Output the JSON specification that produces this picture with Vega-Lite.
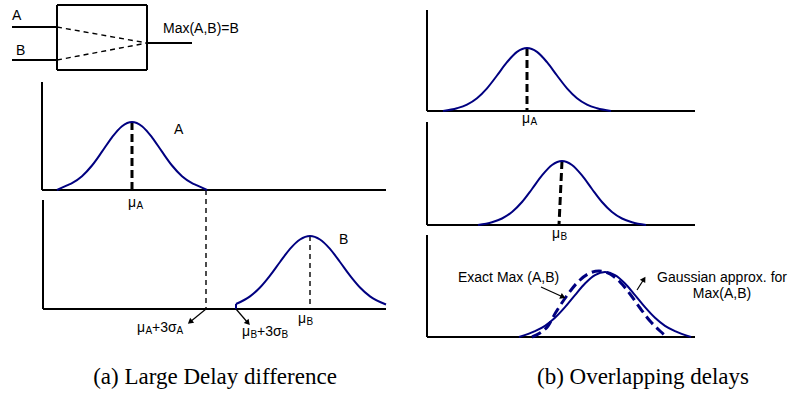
{
  "$schema": "https://vega.github.io/schema/vega-lite/v6.json",
  "width": 799,
  "height": 407,
  "autosize": {"type": "fit", "contains": "padding"},
  "padding": 0,
  "background": "white",
  "config": {"view": {"stroke": null}},
  "datasets": {
    "lines": [
      {"x": 42, "y": 82, "x2": 42, "y2": 190},
      {"x": 42, "y": 190, "x2": 386, "y2": 190},
      {"x": 43, "y": 200, "x2": 43, "y2": 309},
      {"x": 43, "y": 309, "x2": 386, "y2": 309},
      {"x": 427, "y": 10, "x2": 427, "y2": 111},
      {"x": 427, "y": 111, "x2": 695, "y2": 111},
      {"x": 427, "y": 122, "x2": 427, "y2": 225},
      {"x": 427, "y": 225, "x2": 695, "y2": 225},
      {"x": 427, "y": 235, "x2": 427, "y2": 337},
      {"x": 427, "y": 337, "x2": 695, "y2": 337},
      {"x": 57, "y": 5, "x2": 147, "y2": 5},
      {"x": 147, "y": 5, "x2": 147, "y2": 70},
      {"x": 57, "y": 70, "x2": 147, "y2": 70},
      {"x": 57, "y": 5, "x2": 57, "y2": 70},
      {"x": 12, "y": 27, "x2": 57, "y2": 27},
      {"x": 12, "y": 60, "x2": 57, "y2": 60},
      {"x": 147, "y": 43, "x2": 192, "y2": 43}
    ],
    "thin_dash": [
      {"x": 57, "y": 27, "x2": 147, "y2": 43},
      {"x": 57, "y": 60, "x2": 147, "y2": 43},
      {"x": 206, "y": 190, "x2": 206, "y2": 309},
      {"x": 310, "y": 236, "x2": 310, "y2": 309}
    ],
    "thick_dash": [
      {"x": 132, "y": 122, "x2": 132, "y2": 190},
      {"x": 527, "y": 48, "x2": 527, "y2": 111},
      {"x": 562, "y": 161, "x2": 559, "y2": 225}
    ],
    "curves": [
      {"curve": "A", "x": 57, "y": 190}, {"curve": "A", "x": 67, "y": 185.4}, {"curve": "A", "x": 72, "y": 183.1},
      {"curve": "A", "x": 82, "y": 176.2}, {"curve": "A", "x": 92, "y": 165.5}, {"curve": "A", "x": 102, "y": 151.7},
      {"curve": "A", "x": 112, "y": 137.3}, {"curve": "A", "x": 122, "y": 126.2}, {"curve": "A", "x": 132, "y": 122},
      {"curve": "A", "x": 142, "y": 126.2}, {"curve": "A", "x": 152, "y": 137.3}, {"curve": "A", "x": 162, "y": 151.7},
      {"curve": "A", "x": 172, "y": 165.5}, {"curve": "A", "x": 182, "y": 176.2}, {"curve": "A", "x": 192, "y": 183.1},
      {"curve": "A", "x": 197, "y": 185.4}, {"curve": "A", "x": 207, "y": 190},
      {"curve": "B", "x": 236, "y": 304}, {"curve": "B", "x": 250, "y": 296.4}, {"curve": "B", "x": 260, "y": 287.5},
      {"curve": "B", "x": 270, "y": 275.6}, {"curve": "B", "x": 280, "y": 262}, {"curve": "B", "x": 290, "y": 248.9},
      {"curve": "B", "x": 300, "y": 239.5}, {"curve": "B", "x": 310, "y": 236}, {"curve": "B", "x": 320, "y": 239.5},
      {"curve": "B", "x": 330, "y": 248.9}, {"curve": "B", "x": 340, "y": 262}, {"curve": "B", "x": 350, "y": 275.6},
      {"curve": "B", "x": 360, "y": 287.5}, {"curve": "B", "x": 370, "y": 296.4}, {"curve": "B", "x": 386, "y": 304.5},
      {"curve": "R1", "x": 443, "y": 111}, {"curve": "R1", "x": 457, "y": 108.2}, {"curve": "R1", "x": 467, "y": 104.6},
      {"curve": "R1", "x": 477, "y": 98.2}, {"curve": "R1", "x": 487, "y": 88.3}, {"curve": "R1", "x": 497, "y": 75.5},
      {"curve": "R1", "x": 507, "y": 62.2}, {"curve": "R1", "x": 517, "y": 51.9}, {"curve": "R1", "x": 527, "y": 48},
      {"curve": "R1", "x": 537, "y": 51.9}, {"curve": "R1", "x": 547, "y": 62.2}, {"curve": "R1", "x": 557, "y": 75.5},
      {"curve": "R1", "x": 567, "y": 88.3}, {"curve": "R1", "x": 577, "y": 98.2}, {"curve": "R1", "x": 587, "y": 104.6},
      {"curve": "R1", "x": 597, "y": 108.2}, {"curve": "R1", "x": 611, "y": 111},
      {"curve": "R2", "x": 478, "y": 225}, {"curve": "R2", "x": 492, "y": 222.2}, {"curve": "R2", "x": 502, "y": 218.5},
      {"curve": "R2", "x": 512, "y": 212}, {"curve": "R2", "x": 522, "y": 202}, {"curve": "R2", "x": 532, "y": 189},
      {"curve": "R2", "x": 542, "y": 175.4}, {"curve": "R2", "x": 552, "y": 165}, {"curve": "R2", "x": 562, "y": 161},
      {"curve": "R2", "x": 572, "y": 165}, {"curve": "R2", "x": 582, "y": 175.4}, {"curve": "R2", "x": 592, "y": 189},
      {"curve": "R2", "x": 602, "y": 202}, {"curve": "R2", "x": 612, "y": 212}, {"curve": "R2", "x": 622, "y": 218.5},
      {"curve": "R2", "x": 632, "y": 222.2}, {"curve": "R2", "x": 646, "y": 225},
      {"curve": "R3", "x": 519, "y": 337}, {"curve": "R3", "x": 535, "y": 331.1}, {"curve": "R3", "x": 545, "y": 325.8},
      {"curve": "R3", "x": 555, "y": 317.8}, {"curve": "R3", "x": 565, "y": 307.2}, {"curve": "R3", "x": 575, "y": 295.1},
      {"curve": "R3", "x": 585, "y": 283.5}, {"curve": "R3", "x": 595, "y": 275.1}, {"curve": "R3", "x": 605, "y": 272},
      {"curve": "R3", "x": 615, "y": 275.1}, {"curve": "R3", "x": 625, "y": 283.5}, {"curve": "R3", "x": 635, "y": 295.1},
      {"curve": "R3", "x": 645, "y": 307.2}, {"curve": "R3", "x": 655, "y": 317.8}, {"curve": "R3", "x": 665, "y": 325.8},
      {"curve": "R3", "x": 675, "y": 331.1}, {"curve": "R3", "x": 691, "y": 337}
    ],
    "exact": [
      {"x": 532, "y": 337}, {"x": 540, "y": 333}, {"x": 548, "y": 326}, {"x": 556, "y": 312},
      {"x": 566, "y": 297}, {"x": 576, "y": 284}, {"x": 588, "y": 274}, {"x": 599, "y": 271},
      {"x": 610, "y": 274}, {"x": 620, "y": 282}, {"x": 630, "y": 294}, {"x": 640, "y": 308},
      {"x": 650, "y": 321}, {"x": 660, "y": 331}, {"x": 667, "y": 337}
    ],
    "btick": [{"x": 236, "y": 309, "x2": 236, "y2": 304}],
    "arrows": [
      {"id": "a1", "x": 206, "y": 309, "x2": 190, "y2": 322},
      {"id": "a2", "x": 236, "y": 309, "x2": 248, "y2": 323},
      {"id": "a3", "x": 541, "y": 287, "x2": 563, "y2": 297},
      {"id": "a4", "x": 637, "y": 290, "x2": 644, "y2": 279}
    ],
    "labels": [
      {"label": "A", "x": 12, "y": 16},
      {"label": "B", "x": 16, "y": 51},
      {"label": "Max(A,B)=B", "x": 163, "y": 29},
      {"label": "A", "x": 174, "y": 130},
      {"label": "B", "x": 339, "y": 240},
      {"label": "μ", "x": 128, "y": 203},
      {"label": "μ", "x": 298, "y": 319},
      {"label": "μ", "x": 137, "y": 328},
      {"label": "+3σ", "x": 152, "y": 328},
      {"label": "μ", "x": 242, "y": 332},
      {"label": "+3σ", "x": 257, "y": 332},
      {"label": "μ", "x": 522, "y": 119},
      {"label": "μ", "x": 552, "y": 234},
      {"label": "Exact Max (A,B)", "x": 458, "y": 278}
    ],
    "subs": [
      {"label": "A", "x": 136.5, "y": 206},
      {"label": "B", "x": 306.5, "y": 322},
      {"label": "A", "x": 145.5, "y": 331},
      {"label": "A", "x": 176.5, "y": 331},
      {"label": "B", "x": 250.5, "y": 335},
      {"label": "B", "x": 281.5, "y": 335},
      {"label": "A", "x": 530.5, "y": 122},
      {"label": "B", "x": 560.5, "y": 237}
    ],
    "centered": [
      {"label": "Gaussian approx. for", "x": 722, "y": 278},
      {"label": "Max(A,B)", "x": 722, "y": 294}
    ],
    "captions": [
      {"label": "(a) Large Delay difference", "x": 215, "y": 377},
      {"label": "(b) Overlapping delays", "x": 643, "y": 377}
    ]
  },
  "encoding": {
    "x": {"field": "x", "type": "quantitative", "scale": {"domain": [0, 799], "nice": false, "zero": false}, "axis": null},
    "y": {"field": "y", "type": "quantitative", "scale": {"domain": [0, 407], "nice": false, "zero": false, "reverse": true}, "axis": null}
  },
  "layer": [
    {
      "data": {"name": "lines"},
      "mark": {"type": "rule", "color": "black", "strokeWidth": 2},
      "encoding": {"x2": {"field": "x2"}, "y2": {"field": "y2"}}
    },
    {
      "data": {"name": "thin_dash"},
      "mark": {"type": "rule", "color": "black", "strokeWidth": 1.4, "strokeDash": [5, 4]},
      "encoding": {"x2": {"field": "x2"}, "y2": {"field": "y2"}}
    },
    {
      "data": {"name": "thick_dash"},
      "mark": {"type": "rule", "color": "black", "strokeWidth": 3, "strokeDash": [8, 4]},
      "encoding": {"x2": {"field": "x2"}, "y2": {"field": "y2"}}
    },
    {
      "data": {"name": "curves"},
      "mark": {"type": "line", "color": "#000080", "strokeWidth": 2, "interpolate": "monotone"},
      "encoding": {"detail": {"field": "curve"}}
    },
    {
      "data": {"name": "exact"},
      "mark": {"type": "line", "color": "#000080", "strokeWidth": 3, "strokeDash": [10, 5], "interpolate": "monotone"},
      "encoding": {}
    },
    {
      "data": {"name": "btick"},
      "mark": {"type": "rule", "color": "#000080", "strokeWidth": 2},
      "encoding": {"x2": {"field": "x2"}, "y2": {"field": "y2"}}
    },
    {
      "data": {"name": "arrows"},
      "mark": {"type": "rule", "color": "black", "strokeWidth": 1.2},
      "encoding": {"x2": {"field": "x2"}, "y2": {"field": "y2"}}
    },
    {
      "data": {"name": "arrows"},
      "transform": [{"filter": "datum.id === 'a1'"}],
      "mark": {"type": "point", "shape": "triangle-up", "filled": true, "color": "black", "opacity": 1, "size": 40, "angle": 231},
      "encoding": {"x": {"field": "x2", "type": "quantitative"}, "y": {"field": "y2", "type": "quantitative"}}
    },
    {
      "data": {"name": "arrows"},
      "transform": [{"filter": "datum.id === 'a2'"}],
      "mark": {"type": "point", "shape": "triangle-up", "filled": true, "color": "black", "opacity": 1, "size": 40, "angle": 139},
      "encoding": {"x": {"field": "x2", "type": "quantitative"}, "y": {"field": "y2", "type": "quantitative"}}
    },
    {
      "data": {"name": "arrows"},
      "transform": [{"filter": "datum.id === 'a3'"}],
      "mark": {"type": "point", "shape": "triangle-up", "filled": true, "color": "black", "opacity": 1, "size": 40, "angle": 114},
      "encoding": {"x": {"field": "x2", "type": "quantitative"}, "y": {"field": "y2", "type": "quantitative"}}
    },
    {
      "data": {"name": "arrows"},
      "transform": [{"filter": "datum.id === 'a4'"}],
      "mark": {"type": "point", "shape": "triangle-up", "filled": true, "color": "black", "opacity": 1, "size": 40, "angle": 32},
      "encoding": {"x": {"field": "x2", "type": "quantitative"}, "y": {"field": "y2", "type": "quantitative"}}
    },
    {
      "data": {"name": "labels"},
      "mark": {"type": "text", "font": "Liberation Sans", "fontSize": 14, "align": "left", "baseline": "middle", "color": "black"},
      "encoding": {"text": {"field": "label"}}
    },
    {
      "data": {"name": "subs"},
      "mark": {"type": "text", "font": "Liberation Sans", "fontSize": 10, "align": "left", "baseline": "middle", "color": "black"},
      "encoding": {"text": {"field": "label"}}
    },
    {
      "data": {"name": "centered"},
      "mark": {"type": "text", "font": "Liberation Sans", "fontSize": 14, "align": "center", "baseline": "middle", "color": "black"},
      "encoding": {"text": {"field": "label"}}
    },
    {
      "data": {"name": "captions"},
      "mark": {"type": "text", "font": "Liberation Serif", "fontSize": 23, "align": "center", "baseline": "middle", "color": "black"},
      "encoding": {"text": {"field": "label"}}
    }
  ]
}
